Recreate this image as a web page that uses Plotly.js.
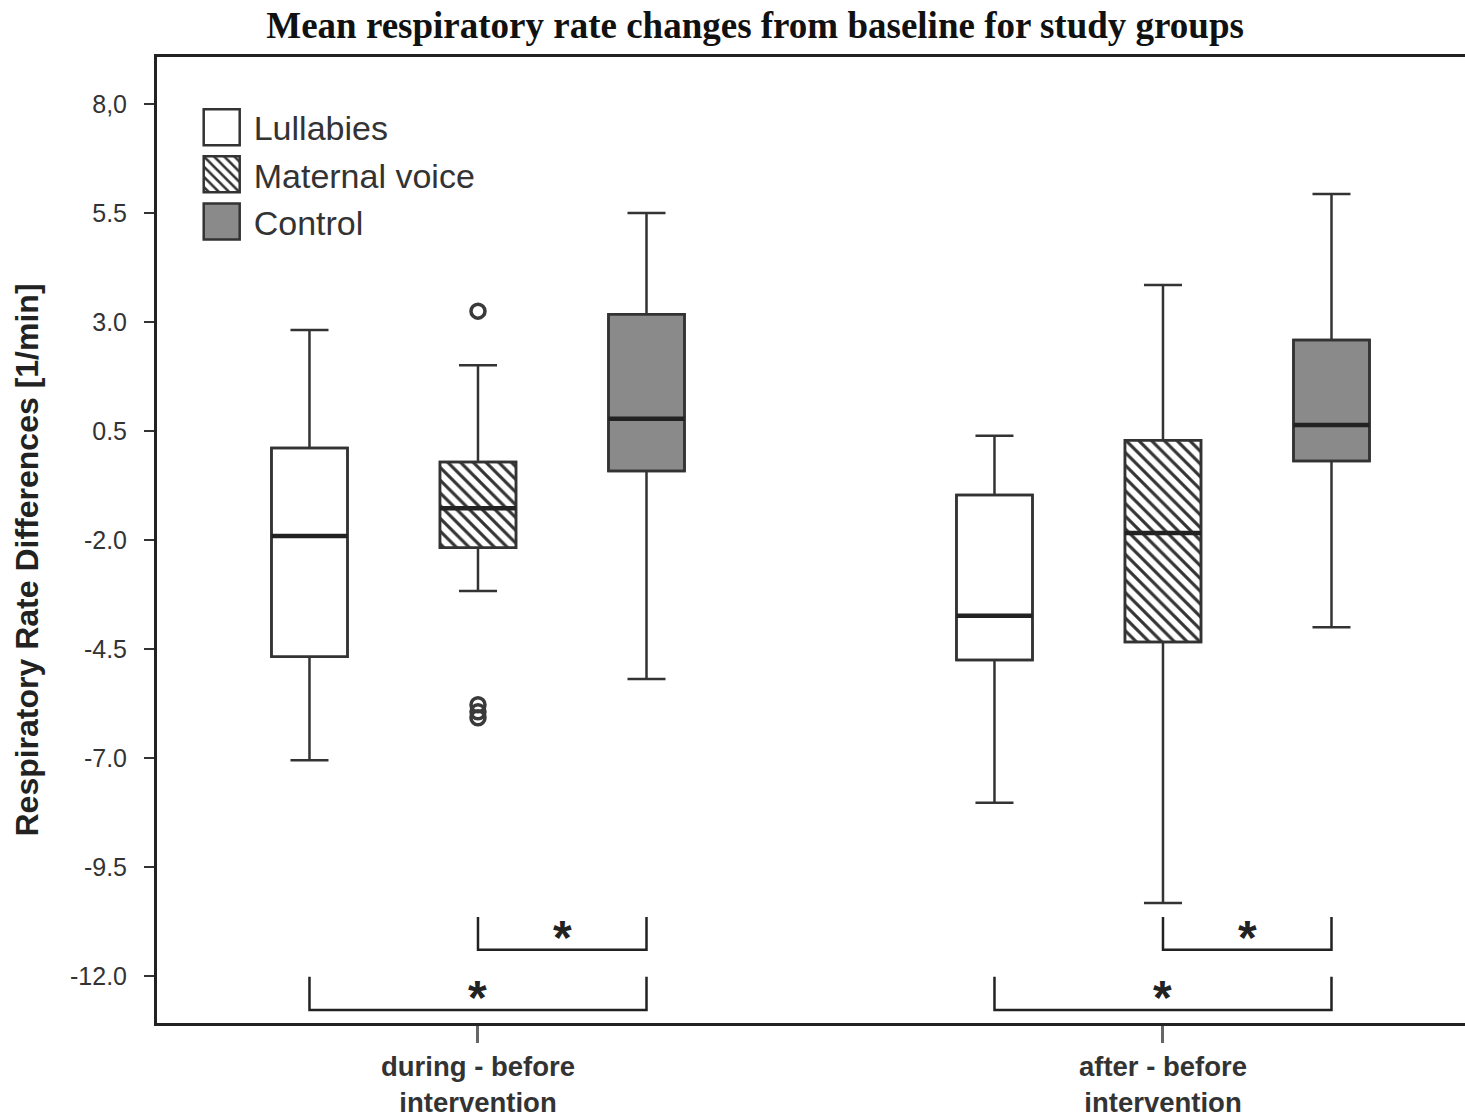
<!DOCTYPE html>
<html><head><meta charset="utf-8">
<script src="https://cdn.plot.ly/plotly-3.0.1.min.js"></script>
<style>html,body{margin:0;padding:0;background:#fff}</style>
</head><body>
<div id="chart" style="width:1465px;height:1119px"></div>
<script>
// ---- data (rows: Lullabies, Maternal voice, Control; columns: categories) ----
const categories = ['during - before<br>intervention', 'after - before<br>intervention'];
const seriesNames = ['Lullabies', 'Maternal voice', 'Control'];
const lowerWhisker = [[-7.05, -8.03], [-3.17, -10.33], [-5.19, -4.0]];
const q1 = [[-4.68, -4.75], [-2.18, -4.34], [-0.42, -0.19]];
const median = [[-1.91, -3.74], [-1.27, -1.84], [0.78, 0.64]];
const q3 = [[0.11, -0.97], [-0.21, 0.29], [3.18, 2.59]];
const upperWhisker = [[2.82, 0.39], [2.01, 3.85], [5.5, 5.94]];
const outlierSeries = 1, outlierCategory = 0;
const outlierValues = [3.25, -5.78, -5.94, -6.08];
const yTickVals = [8, 5.5, 3, 0.5, -2, -4.5, -7, -9.5, -12];
const yTickText = ['8,0', '5.5', '3.0', '0.5', '-2.0', '-4.5', '-7.0', '-9.5', '-12.0'];
// significance brackets
const bracketCategory = [0, 0, 1, 1];
const bracketFrom = [1, 0, 1, 0];
const bracketTo = [2, 2, 2, 2];
const bracketTop = [-10.65, -12.02, -10.65, -12.02];
const bracketBottom = [-11.4, -12.78, -11.4, -12.78];
const bracketLabel = ['*', '*', '*', '*'];

// ---- styling ----
const seriesOffset = [-0.246, 0, 0.246];
const boxW = 0.111;
const fills = ['#ffffff', '#ffffff', '#8a8a8a'];
const edge = '#333333';
const pos = (s, c) => c + seriesOffset[s];

const traces = [];
seriesNames.forEach((name, s) => {
  const xs = categories.map((_, c) => pos(s, c));
  const marker = {color: fills[s], line: {color: edge, width: 2.5}};
  if (s === 1) marker.pattern = {shape: '\\', fgcolor: '#333', bgcolor: '#fff', size: 9, solidity: 0.35};
  traces.push({
    type: 'bar', name: name, x: xs, base: q1[s],
    y: q3[s].map((v, i) => v - q1[s][i]), width: boxW,
    marker: marker, hoverinfo: 'skip', showlegend: true
  });
});
seriesNames.forEach((name, s) => {
  traces.push({
    type: 'box', name: name, x: categories.map((_, c) => pos(s, c)),
    q1: q1[s], median: median[s], q3: q3[s],
    lowerfence: lowerWhisker[s], upperfence: upperWhisker[s],
    width: boxW, whiskerwidth: 0.5, boxpoints: false,
    fillcolor: 'rgba(0,0,0,0)', line: {color: edge, width: 2.5},
    showlegend: false, hoverinfo: 'skip'
  });
});
// thick median lines
const mx = [], my = [];
seriesNames.forEach((_, s) => categories.forEach((_, c) => {
  mx.push(pos(s, c) - boxW / 2, pos(s, c) + boxW / 2, null);
  my.push(median[s][c], median[s][c], null);
}));
traces.push({type: 'scatter', mode: 'lines', x: mx, y: my, line: {color: '#222', width: 4.5},
  showlegend: false, hoverinfo: 'skip'});
traces.push({type: 'scatter', mode: 'markers',
  x: outlierValues.map(() => pos(outlierSeries, outlierCategory)), y: outlierValues,
  marker: {symbol: 'circle-open', size: 14, color: '#3a3a3a', line: {width: 3.5, color: '#3a3a3a'}},
  showlegend: false, hoverinfo: 'skip'});

const shapes = [], annotations = [];
bracketCategory.forEach((c, i) => {
  const x1 = pos(bracketFrom[i], c), x2 = pos(bracketTo[i], c);
  shapes.push({type: 'path', xref: 'x', yref: 'y',
    path: `M ${x1},${bracketTop[i]} L ${x1},${bracketBottom[i]} L ${x2},${bracketBottom[i]} L ${x2},${bracketTop[i]}`,
    line: {color: '#222', width: 2.5}});
  annotations.push({xref: 'x', yref: 'y', x: (x1 + x2) / 2, y: bracketTop[i], yanchor: 'top',
    text: bracketLabel[i], showarrow: false, yshift: 8,
    font: {family: 'Liberation Sans', size: 48, color: '#222', weight: 'bold'}});
});

const layout = {
  width: 1465, height: 1119,
  margin: {l: 157, r: 0, t: 57, b: 96},
  paper_bgcolor: '#fff', plot_bgcolor: '#fff',
  barmode: 'overlay', boxmode: 'overlay',
  title: {text: 'Mean respiratory rate changes from baseline for study groups',
    x: 0.5154, xanchor: 'center', xref: 'container', yref: 'container', y: 0.978, yanchor: 'middle',
    font: {family: 'Liberation Serif', size: 37, color: '#111', weight: 'bold'}},
  xaxis: {range: [-0.4686, 1.4409], tickvals: [0, 1], ticktext: categories,
    showgrid: false, zeroline: false, showline: true, linecolor: '#222', linewidth: 3, mirror: true,
    ticks: 'outside', ticklen: 17, tickwidth: 3, tickcolor: '#666',
    tickfont: {family: 'Liberation Sans', size: 27.5, color: '#333', weight: 'bold'}},
  yaxis: {range: [-13.08, 9.08], tickvals: yTickVals, ticktext: yTickText,
    showgrid: false, zeroline: false, showline: true, linecolor: '#222', linewidth: 3,
    ticks: 'outside', ticklen: 10, tickwidth: 2.5, tickcolor: '#333', ticklabelstandoff: 12,
    tickfont: {family: 'Liberation Sans', size: 25, color: '#333'},
    title: {text: 'Respiratory Rate Differences [1/min]', standoff: 22,
      font: {family: 'Liberation Sans', size: 32, color: '#222', weight: 'bold'}}},
  legend: {x: 0.025, y: 0.957, xanchor: 'left', yanchor: 'top', bgcolor: 'rgba(0,0,0,0)',
    itemwidth: 54, font: {family: 'Liberation Sans', size: 34, color: '#333'},
    traceorder: 'normal', itemclick: false, itemdoubleclick: false},
  shapes: shapes, annotations: annotations, showlegend: true
};

Plotly.newPlot('chart', traces, layout, {displayModeBar: false, staticPlot: true}).then(gd => {
  // enlarge legend swatches to match the reference
  gd.querySelectorAll('.legend .legendpoints path').forEach(p => {
    p.setAttribute('d', 'M18,18H-18V-18H18Z');
    p.style.strokeWidth = '2.5px';
  });
  // the reference's y title sits slightly below the plot centre
  const yt = gd.querySelector('.g-ytitle');
  if (yt) yt.setAttribute('transform', 'translate(0,20)');
});
</script>
</body></html>
